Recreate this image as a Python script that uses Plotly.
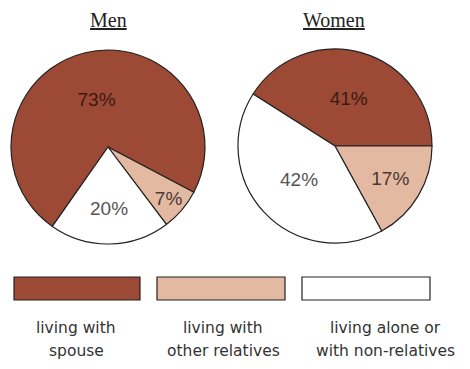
import plotly.graph_objects as go

# ---- data ----
categories = ["living with spouse", "living with other relatives", "living alone or with non-relatives"]
legend_lines = [["living with", "spouse"], ["living with", "other relatives"], ["living alone or", "with non-relatives"]]
men_values = [73, 7, 20]
women_values = [41, 17, 42]
groups = ["Men", "Women"]

colors = ["#9c4a35", "#e3b9a2", "#ffffff"]
text_colors = ["#3a1a12", "#4a3a35", "#555555"]

fig = go.Figure()

pie_domains = [
    dict(x=[11 / 470, 205 / 470], y=[1 - 244 / 369, 1 - 50 / 369]),
    dict(x=[238 / 470, 432 / 470], y=[1 - 243 / 369, 1 - 49 / 369]),
]
rotations = [-145, -57.6]

for vals, dom, rot in zip([men_values, women_values], pie_domains, rotations):
    fig.add_trace(go.Pie(
        labels=categories,
        values=vals,
        sort=False,
        direction="clockwise",
        rotation=rot,
        domain=dom,
        marker=dict(colors=colors, line=dict(color="#222222", width=1.2)),
        texttemplate="%{value}%",
        textposition="inside",
        insidetextorientation="horizontal",
        textfont=dict(family="Liberation Sans, Arial", size=19, color=text_colors),
        hoverinfo="label+value",
        showlegend=False,
    ))

# titles
title_x = [108, 334]
for g, tx in zip(groups, title_x):
    fig.add_annotation(
        x=tx / 470, y=1 - 20 / 369, xref="paper", yref="paper",
        xanchor="center", yanchor="middle",
        text=f"<u>{g}</u>", showarrow=False,
        font=dict(family="Liberation Serif, Times New Roman", size=20, color="#222222"),
    )

# legend swatches and labels
box_x = [(14, 140), (157, 285), (302, 430)]
label_cx = [76, 223, 385]
for (x0, x1), col, lines, cx in zip(box_x, colors, legend_lines, label_cx):
    fig.add_shape(
        type="rect", xref="paper", yref="paper",
        x0=x0 / 470, x1=x1 / 470, y0=1 - 300 / 369, y1=1 - 277 / 369,
        fillcolor=col, line=dict(color="#222222", width=1.2),
    )
    for i, ln in enumerate(lines):
        fig.add_annotation(
            x=cx / 470, y=1 - (328 + 23 * i) / 369, xref="paper", yref="paper",
            xanchor="center", yanchor="middle",
            text=ln, showarrow=False,
            font=dict(family="DejaVu Sans", size=15.5, color="#333333"),
        )

fig.update_layout(
    width=470, height=369,
    margin=dict(l=0, r=0, t=0, b=0),
    paper_bgcolor="white", plot_bgcolor="white",
)

fig.write_html("out.html")
